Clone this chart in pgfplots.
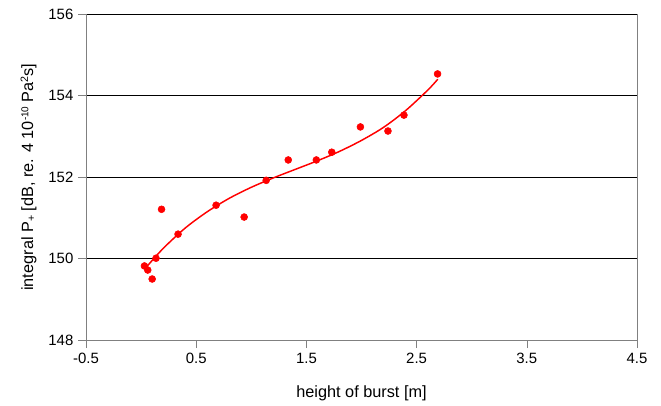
\documentclass[border=0pt]{standalone}
\usepackage{pgfplots}
\pgfplotsset{compat=1.18}
\usepackage{fontspec}
\setmainfont{Liberation Sans}

\begin{document}
\begin{tikzpicture}
\begin{axis}[
    scale only axis,
    width=413pt, height=244.5pt,
    xmin=-0.5, xmax=4.5, ymin=148, ymax=156,
    axis x line*=bottom, axis y line*=left,
    xtick={-0.5,0.5,...,4.5}, ytick={148,150,...,156},
    xticklabel style={/pgf/number format/.cd,fixed,fixed zerofill,precision=1},
    /pgf/number format/assume math mode=true,
    tick label style={font=\fontsize{11.2}{13}\selectfont},
    label style={font=\fontsize{12.2}{14}\selectfont},
    tick align=outside,
    major tick length=6pt,
    tick style={gray, thin},
    axis line style={gray, thin},
    ymajorgrids=true, grid style={black, thin},
    xlabel={height of burst [m]},
    ylabel={integral P{\fontsize{8}{9}\selectfont\raisebox{-0.3ex}{+}} [dB, re. 4 10{\fontsize{7.5}{9}\selectfont\raisebox{0.9ex}{-10}} Pa{\fontsize{8}{9}\selectfont\raisebox{0.9ex}{2}}s]},
    xlabel style={yshift=-10pt},
    ylabel style={yshift=2pt},
    clip=false,
]
\draw[gray, thin] (rel axis cs:1,0) -- (rel axis cs:1,1);
% trend line (cubic fit)
\addplot[red, line width=1.1pt, smooth, no marks] coordinates {
    (0.05,149.80) (0.2,150.25) (0.4,150.75) (0.6,151.15) (0.8,151.48)
    (1.0,151.75) (1.2,151.98) (1.4,152.19) (1.6,152.40) (1.8,152.63)
    (2.0,152.90) (2.2,153.22) (2.4,153.63) (2.6,154.13) (2.692,154.40)
};
% measured points
\addplot[only marks, mark=*, mark size=2.6pt, red, mark options={fill=red, draw=red}] coordinates {
    (0.03,149.82) (0.06,149.72) (0.10,149.50) (0.135,150.01) (0.185,151.21)
    (0.335,150.60) (0.68,151.31) (0.935,151.02) (1.135,151.92) (1.335,152.42)
    (1.59,152.42) (1.73,152.61) (1.99,153.23) (2.24,153.13) (2.385,153.52)
    (2.69,154.53)
};
\end{axis}
\path ([xshift=-64.5pt,yshift=-47.25pt]current axis.south west)
    rectangle ([xshift=18pt,yshift=10.5pt]current axis.north east);
\end{tikzpicture}
\end{document}
